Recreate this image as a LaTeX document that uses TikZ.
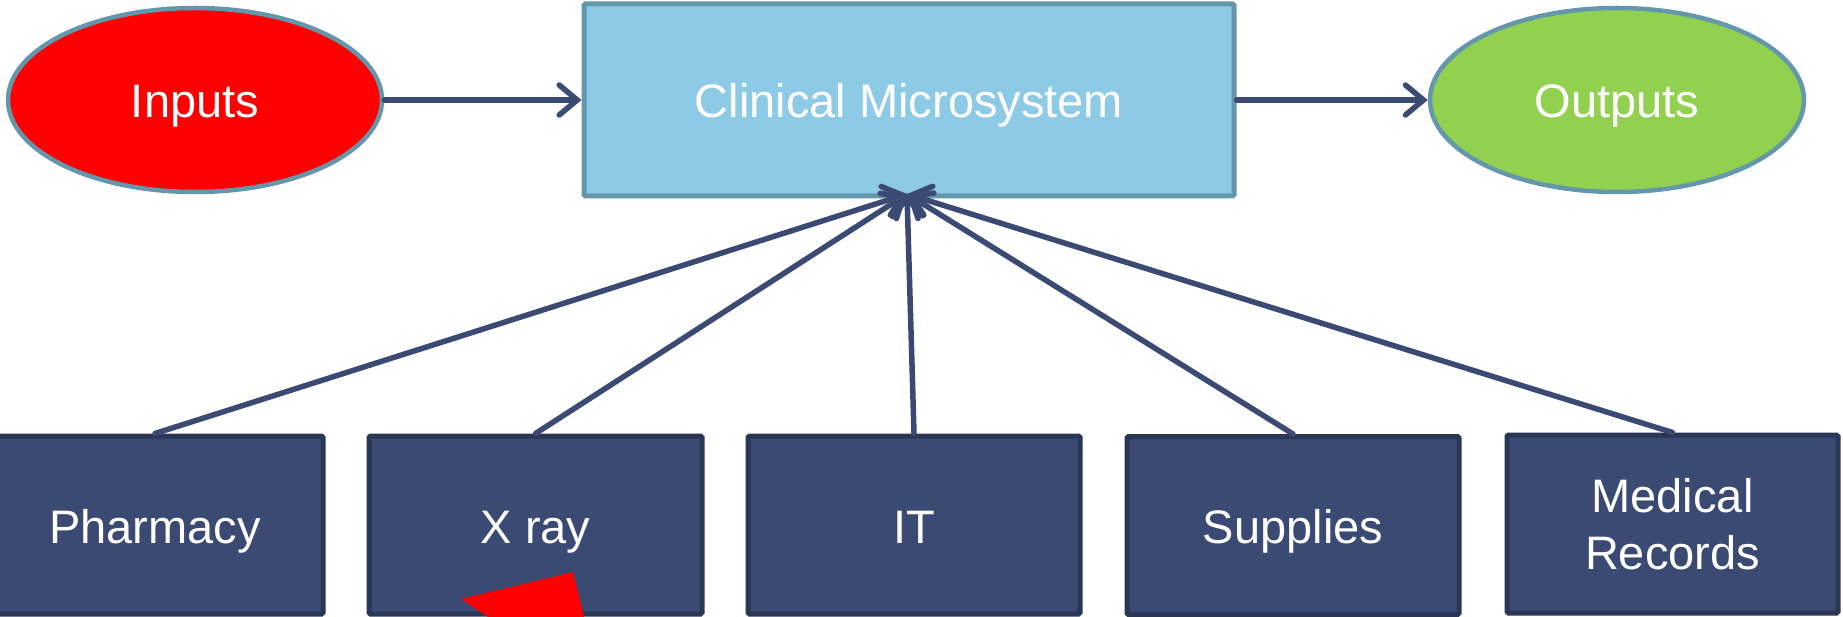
\documentclass[tikz,border=0pt]{standalone}
\usepackage{fontspec}
\setmainfont{Liberation Sans}
\usetikzlibrary{arrows.meta,shapes.geometric}
\definecolor{inred}{HTML}{FF0000}
\definecolor{outgreen}{HTML}{92D050}
\definecolor{skyfill}{HTML}{8DCAE6}
\definecolor{steel}{HTML}{6497AB}
\definecolor{navy}{HTML}{3A4A72}
\definecolor{navyedge}{HTML}{2A3656}
\begin{document}
\begin{tikzpicture}[x=1pt,y=-1pt,
  label text/.style={text=white, font=\fontsize{47}{57}\selectfont},
  one line/.style={text height=36pt, text depth=0pt},
  oval/.style={ellipse, draw=steel, line width=4.5pt, minimum width=374pt, minimum height=184pt, inner sep=0pt, label text, one line},
  centre box/.style={rectangle, draw=steel, line width=5pt, fill=skyfill, minimum width=650pt, minimum height=192pt, inner sep=0pt, rounded corners=1.5pt, label text, one line},
  unit box/.style={rectangle, draw=navyedge, line width=5pt, fill=navy, minimum width=332pt, minimum height=178pt, inner sep=0pt, rounded corners=1.5pt, align=center, label text},
  conn/.style={draw=navy, line width=5.5pt, line cap=round, -{Straight Barb[length=18pt, width=30pt, line width=5.5pt, line cap=round]}}
]
\useasboundingbox (0,0) rectangle (1843,617);

% top row
\node[oval, fill=inred] (inputs) at (195,100) {Inputs};
\node[centre box] (micro) at (909,100) {Clinical Microsystem};
\node[oval, fill=outgreen] (outputs) at (1617,100) {Outputs};

% supporting units
\node[unit box, one line, minimum width=336pt] (pharm) at (155,525) {Pharmacy};
\node[unit box, one line, minimum width=333pt] (xray) at (535.5,525) {X ray};
\node[unit box, one line] (it) at (914,525) {IT};
\node[unit box, one line] (supp) at (1293,525.5) {Supplies};
\node[unit box, minimum width=331pt] (recs) at (1672.5,524) {Medical\\Records};

\coordinate (hub) at (907,194);

% connectors
\draw[conn] (inputs.east) -- (micro.west);
\draw[conn] (micro.east) -- (outputs.west);
\foreach \u in {pharm,xray,it,supp,recs}
  \draw[conn] (\u.north) -- (hub);

% pointer
\fill[inred] (461,599) -- (573,572) -- (584,617) -- (488,617) -- cycle;
\end{tikzpicture}
\end{document}
